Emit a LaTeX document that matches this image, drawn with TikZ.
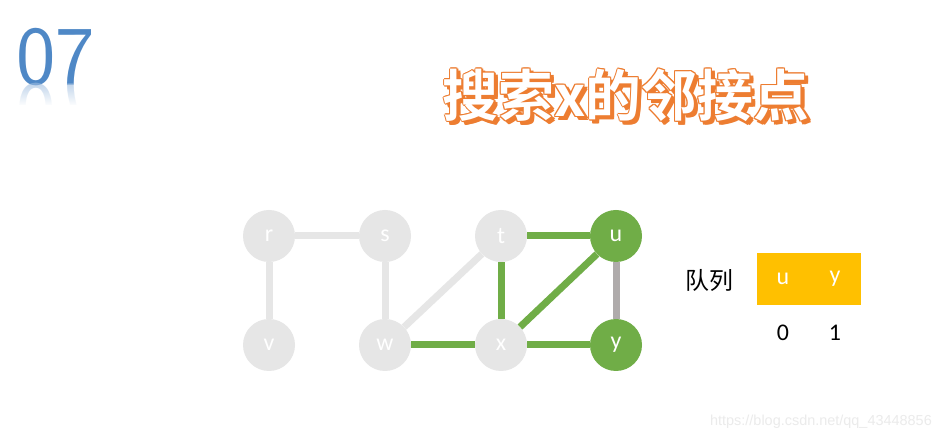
\documentclass[tikz,border=0pt]{standalone}
\usepackage{fontspec}
\setmainfont{Carlito}
\newfontfamily\cjk{Noto Sans CJK SC}
\newfontfamily\cjkb{Noto Sans CJK SC}[BoldFont={* Bold}]
\newfontfamily\wmf{Liberation Sans}
\usetikzlibrary{fadings}
\definecolor{lg}{HTML}{E6E6E6}
\definecolor{gr}{HTML}{70AD47}
\definecolor{dg}{HTML}{AFABAB}
\definecolor{qy}{HTML}{FFC000}
\definecolor{org}{HTML}{ED7D31}
\definecolor{bl}{HTML}{4F88C6}
\definecolor{wm}{HTML}{EBEBEB}
\tikzset{
  vert/.style={circle,minimum size=52bp,inner sep=0pt,fill=lg,text=white,font=\fontsize{24}{24}\selectfont},
  vgreen/.style={vert,fill=gr},
  eg/.style={line width=7bp,lg},
  egr/.style={line width=7bp,gr},
  egy/.style={line width=7bp,dg},
  ttl/.style={font=\cjkb\bfseries\fontsize{56}{56}\selectfont,inner sep=0pt},
  bignum/.style={font=\sffamily\fontsize{84}{84}\selectfont,inner sep=0pt,anchor=base west}
}
\begin{document}
\begin{tikzpicture}[x=1bp,y=-1bp]
\useasboundingbox (0,0) rectangle (943,440);
\fill[white] (0,0) rectangle (943,440);
% 07
\node[bignum,text=bl] (num) at (16,85) {07};
\node[bignum,text=bl!55,yscale=-1,opacity=0.6] (numr) at (16,85) {07};
\fill[white,path fading=north] (10,84) rectangle (110,106);
\fill[white] (10,105) rectangle (110,150);
% title
\foreach \dx/\dy in {3/3,4/4,2.5/4,4/2.5}{
  \node[ttl,text=org] at (626+\dx,95+\dy) {搜索x的邻接点};
}
\foreach \dx/\dy in {1.1/0,-1.1/0,0/1.1,0/-1.1,0.8/0.8,-0.8/0.8,0.8/-0.8,-0.8/-0.8}{
  \node[ttl,text=org] at (626+\dx,95+\dy) {搜索x的邻接点};
}
\node[ttl,text=white] (title) at (626,95) {搜索x的邻接点};
% nodes
\node[vert] (r) at (269,236) {r};
\node[vert] (s) at (385,236) {s};
\node[vert] (t) at (501,236) {t};
\node[vgreen] (u) at (616,236) {u};
\node[vert] (v) at (269,345) {v};
\node[vert] (w) at (385,345) {w};
\node[vert] (x) at (501,345) {x};
\node[vgreen] (y) at (616,345) {y};
% edges
\draw[eg] (r) -- (s);
\draw[eg] (r) -- (v);
\draw[eg] (s) -- (w);
\draw[eg] (w) -- (t);
\draw[egr] (w) -- (x);
\draw[egr] (t) -- (x);
\draw[egr] (t) -- (u);
\draw[egr] (x) -- (u);
\draw[egr] (x) -- (y);
\draw[egy] (u) -- (y);
% queue
\node[font=\cjk\fontsize{24}{24}\selectfont,inner sep=0pt] (ql) at (709,280) {队列};
\fill[qy] (757,253) rectangle (861,305);
\node[font=\fontsize{24}{24}\selectfont,text=white] (q0) at (783,279) {u};
\node[font=\fontsize{24}{24}\selectfont,text=white] (q1) at (835,279) {y};
\node[font=\fontsize{24}{24}\selectfont] (i0) at (783,333) {0};
\node[font=\fontsize{24}{24}\selectfont] (i1) at (835,333) {1};
% watermark
\node[font=\wmf\fontsize{14.5}{14.5}\selectfont,text=wm,anchor=east,inner sep=0pt] (wmk) at (932,422) {https://blog.csdn.net/qq\_43448856};
\end{tikzpicture}
\end{document}
